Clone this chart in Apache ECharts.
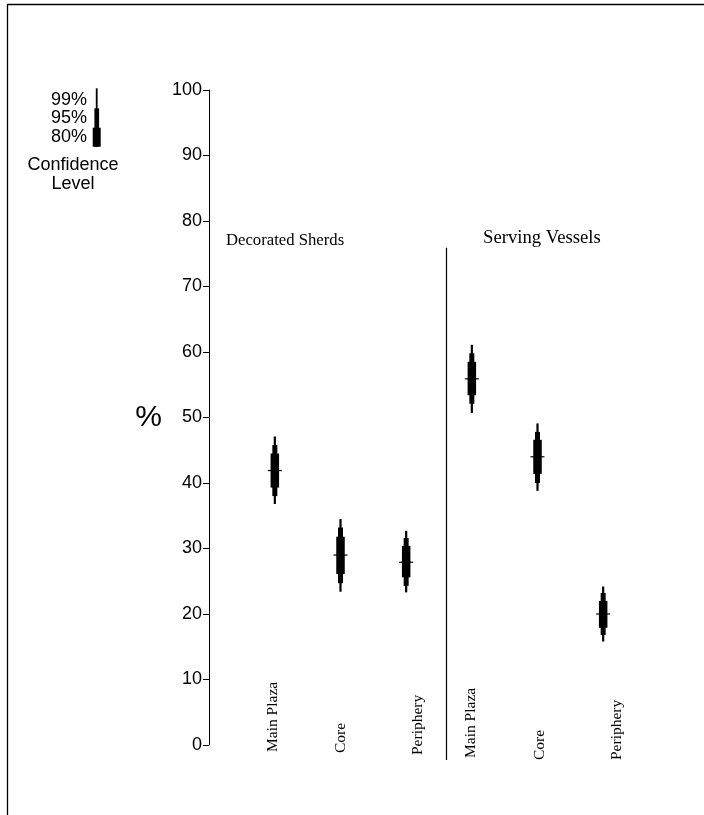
<!DOCTYPE html>
<html><head><meta charset="utf-8">
<script src="https://cdn.jsdelivr.net/npm/echarts@6/dist/echarts.min.js"></script>
<style>html,body{margin:0;padding:0;background:#fff}#c{width:704px;height:815px}</style>
</head><body><div id="c"></div>
<script>
// ---- data ----
const categories = ['Main Plaza', 'Core', 'Periphery', 'Main Plaza', 'Core', 'Periphery'];
const groupTitles = ['Decorated Sherds', 'Serving Vessels'];
const lo99   = [36.8, 23.4, 23.3, 50.7, 38.8, 15.8];
const lo95   = [38.0, 24.7, 24.3, 52.1, 40.0, 16.8];
const lo80   = [39.3, 26.1, 25.6, 53.4, 41.4, 17.9];
const median = [41.9, 29.0, 27.9, 55.9, 44.0, 20.0];
const hi80   = [44.5, 31.8, 30.4, 58.5, 46.6, 22.0];
const hi95   = [45.8, 33.2, 31.6, 59.8, 47.8, 23.2];
const hi99   = [47.1, 34.5, 32.7, 61.1, 49.1, 24.2];
const yTickLabels = [0, 10, 20, 30, 40, 50, 60, 70, 80, 90, 100];
const legendLevels = ['99%', '95%', '80%'];
const legendTitle = ['Confidence', 'Level'];
const yAxisName = '%';

// ---- style helpers ----
const serif = '"Liberation Serif", "Times New Roman", serif';
const sans = '"Liberation Sans", Arial, sans-serif';
// label nudges (px): [along reading direction, sideways]
const labelNudge = [[8, -2], [7, 0], [5, 12], [2, -1], [0, 2], [0, 14]];

const chart = echarts.init(document.getElementById('c'), null, {renderer: 'canvas'});

const boxData = categories.map((c, i) => [i, lo99[i], lo95[i], lo80[i], median[i], hi80[i], hi95[i], hi99[i]]);

const option = {
  animation: false,
  backgroundColor: '#fff',
  grid: {left: 242, width: 394, top: 90, height: 655, containLabel: false, outerBoundsMode: 'none'},
  xAxis: {
    type: 'category',
    data: categories,
    boundaryGap: true,
    axisLine: {show: false},
    axisTick: {show: false},
    splitLine: {show: false},
    axisLabel: {show: false}
  },
  yAxis: {
    type: 'value', min: 0, max: 100, interval: 10,
    offset: 33,
    name: yAxisName, nameLocation: 'middle', nameRotate: 0, nameGap: 47,
    nameTextStyle: {fontFamily: sans, fontSize: 30, color: '#000'},
    axisLine: {show: true, lineStyle: {color: '#000', width: 1}},
    axisTick: {show: true, length: 6, lineStyle: {color: '#000', width: 1}},
    splitLine: {show: false},
    axisLabel: {
      margin: 7, fontFamily: sans, fontSize: 18, color: '#000',
      formatter: v => yTickLabels.includes(v) ? String(v) : ''
    }
  },
  series: [
    {
      type: 'custom',
      clip: false,
      data: boxData,
      encode: {x: 0, y: [1, 2, 3, 4, 5, 6, 7]},
      renderItem: function (params, api) {
        const i = api.value(0);
        const x = api.coord([i, 0])[0];
        const yy = v => api.coord([i, v])[1];
        const widths = [2.2, 5, 8.5];
        const pairs = [[1, 7], [2, 6], [3, 5]];
        const children = pairs.map(([a, b], k) => {
          const top = yy(api.value(b)), bot = yy(api.value(a));
          return {type: 'rect', shape: {x: x - widths[k] / 2, y: top, width: widths[k], height: bot - top},
                  style: {fill: '#000'}};
        });
        const m = yy(api.value(4));
        children.push({type: 'line', shape: {x1: x - 7, y1: m, x2: x + 7, y2: m},
                       style: {stroke: '#000', lineWidth: 1.2}});
        // category label, rotated, reading bottom-to-top, starting just below the zero line
        const base = api.coord([i, 0]);
        const nud = labelNudge[i];
        children.push({type: 'text', x: base[0] + nud[1], y: base[1] + 15 - nud[0], rotation: Math.PI / 2,
                       style: {text: categories[i], font: '15.5px ' + serif, fill: '#000',
                               align: 'left', verticalAlign: 'middle'}});
        return {type: 'group', children};
      }
    },
    {
      type: 'custom',
      clip: false,
      data: [[0]],
      renderItem: function (params, api) {
        const c2 = api.coord([2, 0])[0], c3 = api.coord([3, 0])[0];
        const x = Math.round(c2 + 0.6 * (c3 - c2)) + 0.5;
        const y1 = api.coord([0, 75.9])[1];
        const y2 = api.coord([0, -2.3])[1];
        return {type: 'line', shape: {x1: x, y1: y1, x2: x, y2: y2},
                style: {stroke: '#000', lineWidth: 1.2}};
      }
    }
  ],
  graphic: [
    // outer frame
    {type: 'rect', shape: {x: 7.5, y: 4.5, width: 900, height: 1000}, style: {fill: 'none', stroke: '#000', lineWidth: 1.3}, silent: true},
    // group titles
    {type: 'text', x: 226, y: 241, style: {text: groupTitles[0], font: '16.7px ' + serif, fill: '#000', align: 'left', verticalAlign: 'middle', textAlign: 'left', textVerticalAlign: 'middle'}},
    {type: 'text', x: 483, y: 238, style: {text: groupTitles[1], font: '18.7px ' + serif, fill: '#000', align: 'left', verticalAlign: 'middle', textAlign: 'left', textVerticalAlign: 'middle'}},
    // legend labels
    {type: 'text', x: 87, y: 100, style: {text: legendLevels[0], font: '18px ' + sans, fill: '#000', align: 'right', verticalAlign: 'middle', textAlign: 'right', textVerticalAlign: 'middle'}},
    {type: 'text', x: 87, y: 118.5, style: {text: legendLevels[1], font: '18px ' + sans, fill: '#000', align: 'right', verticalAlign: 'middle', textAlign: 'right', textVerticalAlign: 'middle'}},
    {type: 'text', x: 87, y: 137, style: {text: legendLevels[2], font: '18px ' + sans, fill: '#000', align: 'right', verticalAlign: 'middle', textAlign: 'right', textVerticalAlign: 'middle'}},
    {type: 'text', x: 73, y: 165, style: {text: legendTitle[0], font: '18px ' + sans, fill: '#000', align: 'center', verticalAlign: 'middle', textAlign: 'center', textVerticalAlign: 'middle'}},
    {type: 'text', x: 73, y: 184.5, style: {text: legendTitle[1], font: '18px ' + sans, fill: '#000', align: 'center', verticalAlign: 'middle', textAlign: 'center', textVerticalAlign: 'middle'}},
    // legend symbol
    {type: 'rect', shape: {x: 95.8, y: 88.3, width: 1.8, height: 58.4}, style: {fill: '#000'}},
    {type: 'rect', shape: {x: 94.4, y: 108.3, width: 4.7, height: 38.4}, style: {fill: '#000'}},
    {type: 'rect', shape: {x: 92.7, y: 127.7, width: 8, height: 19}, style: {fill: '#000'}}
  ]
};
chart.setOption(option);
</script>
</body></html>
